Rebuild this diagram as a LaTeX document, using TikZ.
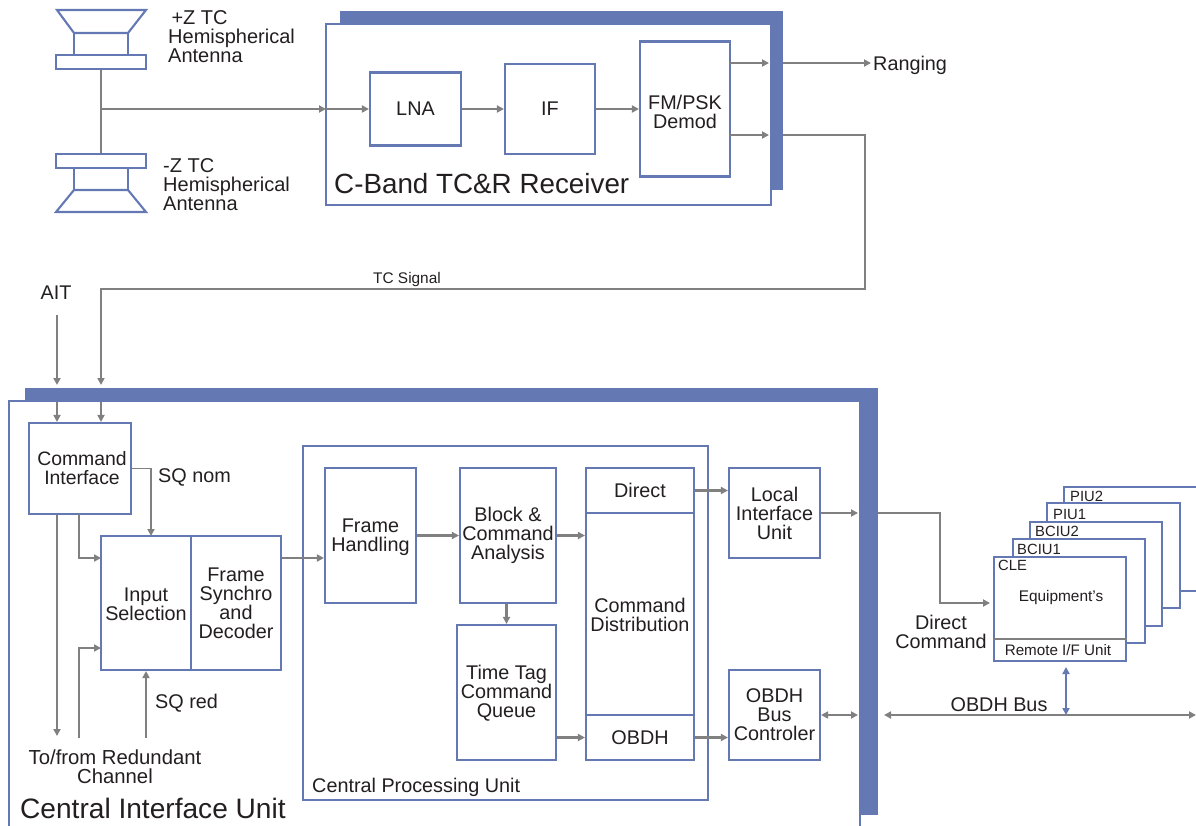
\documentclass[tikz,border=0pt]{standalone}
\usepackage{fontspec}
\setmainfont{Liberation Sans}
\usetikzlibrary{arrows.meta,positioning,calc}
\definecolor{bandblue}{RGB}{100,120,180}
\definecolor{linegray}{RGB}{128,128,128}
\definecolor{inkdark}{RGB}{35,31,32}
\tikzset{
  blockbox/.style={draw=bandblue, line width=2.1pt, fill=white, inner sep=0pt, align=center, text=inkdark, font=\fontsize{19.8}{19}\selectfont},
  plainlabel/.style={inner sep=0pt, align=center, text=inkdark, font=\fontsize{19.8}{19}\selectfont},
  leftlabel/.style={plainlabel, align=left, anchor=west},
  stacklabel/.style={inner sep=0pt, text=inkdark, anchor=west, font=\fontsize{14.8}{15}\selectfont},
  sigline/.style={draw=linegray, line width=2.2pt},
  sigarrow/.style={sigline, -{Triangle[length=7pt,width=7pt]}},
  thinarrow/.style={sigarrow, line width=1.7pt},
  sigboth/.style={sigline, {Triangle[length=7pt,width=7pt]}-{Triangle[length=7pt,width=7pt]}},
  hornline/.style={draw=bandblue, line width=2.1pt}
}
\begin{document}
\begin{tikzpicture}[x=1pt,y=-1pt]
  \useasboundingbox (0,0) rectangle (1196,826);

  % Antennas
  \draw[hornline] (57,10) -- (146,10) -- (128,33) -- (74,33) -- cycle;
  \draw[hornline] (74,33) rectangle (128,55);
  \node[blockbox, minimum width=90pt, minimum height=14pt] (antplus) at (101,62) {};
  \node[blockbox, minimum width=90pt, minimum height=14pt] (antminus) at (101,161) {};
  \draw[hornline] (74,168) rectangle (128,190);
  \draw[hornline] (74,190) -- (128,190) -- (146,212) -- (56,212) -- cycle;
  \node[leftlabel, font=\fontsize{20}{19}\selectfont] (antplustxt) at (168,37) {\,+Z TC\\Hemispherical\\Antenna};
  \node[leftlabel, font=\fontsize{20}{19}\selectfont] (antminustxt) at (163,185) {-Z TC\\Hemispherical\\Antenna};

  % C-Band receiver
  \fill[bandblue] (340,11) rectangle (783,190);
  \node[blockbox, minimum width=445pt, minimum height=181pt] (rxbox) at (548.5,114.5) {};
  \node[leftlabel, font=\fontsize{27.8}{27}\selectfont] (rxtitle) at (334,184) {C-Band TC\&R Receiver};
  \node[blockbox, minimum width=91pt, minimum height=73pt] (lna) at (415.5,109) {LNA};
  \node[blockbox, minimum width=90pt, minimum height=90pt] (ifbox) at (550,109) {IF};
  \node[blockbox, minimum width=90pt, minimum height=135pt] (demod) at (685,109) {\rule{0pt}{20pt}FM/PSK\\Demod};
  \node[leftlabel] (ranging) at (873,65) {Ranging};
  \node[plainlabel, font=\fontsize{15.4}{15}\selectfont] (tcsignal) at (407,280) {TC Signal};
  \node[plainlabel] (ait) at (56,293) {AIT};

  % Central Interface Unit
  \fill[bandblue] (25,388) rectangle (878,815);
  \node[blockbox, minimum width=851pt, minimum height=439pt] (ciubox) at (434.5,620.5) {};
  \node[leftlabel, font=\fontsize{28.1}{27}\selectfont] (ciutitle) at (20,808) {Central Interface Unit};
  \node[blockbox, minimum width=102pt, minimum height=91pt, font=\fontsize{19.4}{19}\selectfont] (cmdif) at (80,468.5) {\hspace*{4pt}Command\\\hspace*{4pt}Interface};
  \node[blockbox, minimum width=90pt, minimum height=134pt] (inputsel) at (146,603) {\rule{0pt}{16pt}Input\\Selection};
  \node[blockbox, minimum width=90pt, minimum height=134pt] (framesync) at (236,603) {Frame\\Synchro\\and\\Decoder};
  \node[leftlabel] (sqnom) at (158,477.5) {SQ nom};
  \node[leftlabel] (sqred) at (155,703.5) {SQ red};
  \node[plainlabel, font=\fontsize{20.3}{19}\selectfont] (redund) at (115,767) {To/from Redundant\\Channel};

  % Central Processing Unit
  \node[blockbox, minimum width=405pt, minimum height=354pt] (cpubox) at (505.5,623) {};
  \node[leftlabel, font=\fontsize{19.8}{18}\selectfont] (cputitle) at (312,787) {Central Processing Unit};
  \node[blockbox, minimum width=91pt, minimum height=135pt] (framehand) at (370.5,535.5) {\rule{0pt}{17pt}Frame\\Handling};
  \node[blockbox, minimum width=96pt, minimum height=135pt] (blockcmd) at (508,535.5) {Block \&\\Command\\Analysis};
  \node[blockbox, minimum width=99pt, minimum height=135pt] (timetag) at (506.5,692.5) {\rule{0pt}{16pt}Time Tag\\Command\\Queue};
  \node[blockbox, minimum width=108pt, minimum height=45pt] (direct) at (640,490.5) {Direct};
  \node[blockbox, minimum width=108pt, minimum height=202pt] (cmddist) at (640,614) {\rule{0pt}{17pt}Command\\Distribution};
  \node[blockbox, minimum width=108pt, minimum height=45pt] (obdhout) at (640,737.5) {OBDH};
  \node[blockbox, minimum width=91pt, minimum height=90pt] (localif) at (774.5,513) {Local\\Interface\\Unit};
  \node[blockbox, minimum width=91pt, minimum height=90pt] (obdhctl) at (774.5,715) {OBDH\\Bus\\Controler};

  % Equipment stack
  \node[blockbox, minimum width=146pt, minimum height=104pt] (piutwo) at (1137,539) {};
  \node[blockbox, minimum width=133pt, minimum height=105pt] (piuone) at (1113.5,555.5) {};
  \node[blockbox, minimum width=132pt, minimum height=104pt] (bciutwo) at (1096,574) {};
  \node[blockbox, minimum width=132pt, minimum height=104pt] (bciuone) at (1079,591) {};
  \node[blockbox, minimum width=132pt, minimum height=104pt] (clebox) at (1060,609) {};
  \node[stacklabel] (piutwotxt) at (1070,496) {PIU2};
  \node[stacklabel] (piuonetxt) at (1053,514) {PIU1};
  \node[stacklabel] (bciutwotxt) at (1035,531) {BCIU2};
  \node[stacklabel] (bciuonetxt) at (1017,549) {BCIU1};
  \node[stacklabel] (cletxt) at (998,565) {CLE};
  \node[stacklabel, anchor=center, font=\fontsize{15.4}{15}\selectfont] (equiptxt) at (1061,597.5) {Equipment's};
  \node[stacklabel, anchor=center, font=\fontsize{15.2}{15}\selectfont] (remotetxt) at (1058,650) {Remote I/F Unit};
  \coordinate (remotel) at (994,639);
  \draw[sigline, line width=1.3pt] (remotel) -- (remotel -| clebox.east);
  \node[plainlabel] (directcmd) at (941,632) {Direct\\Command};
  \node[plainlabel] (obdhbus) at (999,705) {OBDH Bus};

  % Named ends
  \coordinate (antjoin) at (101,109);
  \coordinate (rxport) at (326,109);
  \coordinate (demodtop) at (730,63);
  \coordinate (rxtopin) at (769,63);
  \coordinate (rxtopout) at (783,63);
  \coordinate (demodlow) at (730,135);
  \coordinate (rxlowin) at (769,135);
  \coordinate (rxlowout) at (783,135);
  \coordinate (aitin) at (57,385);
  \coordinate (aitup) at (57,315);
  \coordinate (aitout) at (57,402);
  \coordinate (tcin) at (101,385);
  \coordinate (tcout) at (101,402);
  \coordinate (rangeend) at (871,63);

  % Receiver lines
  \draw[sigline, line width=2.6pt] (antplus.south) -- (antminus.north);
  \draw[sigarrow] (antjoin) -- (rxport);
  \draw[sigarrow] (rxport) -- (lna);
  \draw[sigarrow] (lna) -- (ifbox);
  \draw[sigarrow] (ifbox) -- (demod);
  \draw[sigarrow] (demodtop) -- (rxtopin);
  \draw[sigarrow] (rxtopout) -- (rangeend);
  \draw[sigarrow] (demodlow) -- (rxlowin);
  \draw[thinarrow] (rxlowout) -- (865,135) -- (865,289) -- (101,289) -- (tcin);
  \draw[sigarrow] (aitup) -- (aitin);
  \draw[sigarrow] (aitout) -- (aitout |- cmdif.north);
  \draw[sigarrow] (tcout) -- (tcout |- cmdif.north);

  % Interface unit lines
  \coordinate (sqtop) at (cmdif.east);
  \coordinate (sqin) at (151,536);
  \coordinate (cmdlow) at (79,514);
  \coordinate (inputup) at (101,558);
  \coordinate (inputlow) at (101,648);
  \coordinate (redout) at (57,736);
  \coordinate (redup) at (79,738);
  \coordinate (sqredup) at (146,738);
  \draw[thinarrow] (sqtop) -- (sqtop -| sqin) -- (sqin);
  \draw[thinarrow] (cmdlow) -- (cmdlow |- inputup) -- (inputup);
  \draw[sigarrow] (redout |- cmdif.south) -- (redout);
  \draw[thinarrow] (redup) -- (redup |- inputlow) -- (inputlow);
  \draw[sigarrow] (sqredup) -- (inputsel.south);
  \draw[sigarrow] (framesync.east |- inputup) -- (framehand.west |- inputup);

  % Processing lines
  \draw[sigarrow] (framehand) -- (blockcmd);
  \draw[sigarrow] (blockcmd) -- (blockcmd -| cmddist.west);
  \draw[sigarrow] (timetag.north |- blockcmd.south) -- (timetag.north);
  \draw[sigarrow] (timetag.east |- obdhout) -- (obdhout);
  \draw[sigarrow] (direct) -- (direct -| localif.west);
  \draw[sigarrow] (obdhout) -- (obdhout -| obdhctl.west);

  % Outgoing lines
  \coordinate (localport) at (858,513);
  \coordinate (localout) at (878,513);
  \coordinate (cleport) at (990,603);
  \coordinate (ctlport) at (858,715);
  \coordinate (busleft) at (884,715);
  \coordinate (busright) at (1196,715);
  \coordinate (busjoin) at (1066,715);
  \coordinate (cletap) at (1066,667);
  \draw[sigarrow] (localif) -- (localport);
  \draw[sigarrow] (localout) -- (940,513) -- (940,603) -- (cleport);
  \draw[sigboth] (obdhctl) -- (ctlport);
  \draw[sigboth] (busleft) -- (busright);
  \draw[sigboth, draw=bandblue] (cletap) -- (busjoin);
\end{tikzpicture}
\end{document}
